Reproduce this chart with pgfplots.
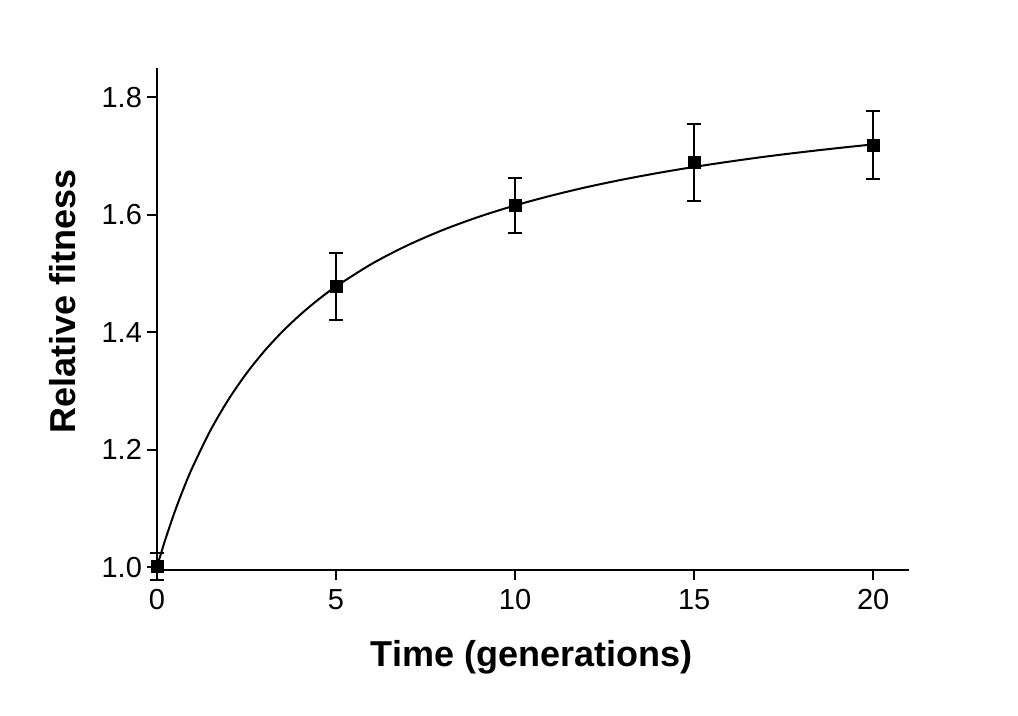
\documentclass[border=0pt]{standalone}
\usepackage{pgfplots}
\pgfplotsset{compat=1.18}
\usepackage{fontspec}
\setmainfont{Liberation Sans}
\begin{document}
\begin{tikzpicture}
\path[use as bounding box] (-78.5pt,-73pt) rectangle (430.5pt,285pt);
\begin{axis}[
  at={(0,0)}, anchor=south west,
  scale only axis, width=376pt, height=251pt,
  xmin=0, xmax=21, ymin=0.995, ymax=1.85,
  axis lines=left, axis line style={-, line width=1pt},
  xtick={0,5,10,15,20}, ytick={1.0,1.2,1.4,1.6,1.8},
  yticklabel style={xshift=1pt, /pgf/number format/.cd, fixed, fixed zerofill, precision=1},
  xticklabel style={yshift=-1pt},
  /pgf/number format/assume math mode=true,
  tick align=outside, major tick length=5pt,
  tick style={line width=1pt, black},
  tick label style={font=\fontsize{14.5}{16}\selectfont},
  xlabel={Time (generations)}, ylabel={Relative fitness},
  label style={font=\fontsize{18}{21}\selectfont\bfseries},
  xlabel style={at={(axis description cs:0.498,0)}, anchor=base, yshift=-48.5pt},
  ylabel style={at={(axis description cs:-0.109,0.534)}, anchor=base, rotate=0},
  clip=false,
]
\addplot[black, line width=1pt, smooth, no marks] coordinates {
(0,1.0000) (0.1,1.0208) (0.25,1.0502) (0.5,1.0950) (0.75,1.1350) (1,1.1711)
(1.5,1.2336) (2,1.2858) (2.5,1.3300) (3,1.3680) (3.5,1.4009) (4,1.4298)
(4.5,1.4553) (5,1.4779) (6,1.5165) (7,1.5481) (8,1.5745) (9,1.5968)
(10,1.6159) (11,1.6325) (12,1.6471) (13,1.6599) (14,1.6713) (15,1.6815)
(16,1.6907) (17,1.6991) (18,1.7066) (19,1.7135) (20,1.7199)
};
\addplot[black, only marks, mark=square*, mark size=3pt,
  error bars/.cd, y dir=both, y explicit,
  error bar style={line width=1pt, black},
  error mark options={rotate=90, mark size=3.5pt, line width=1pt, black}]
  coordinates {
  (0,1.0005) +- (0,0.023)
  (5,1.478) +- (0,0.057)
  (10,1.616) +- (0,0.047)
  (15,1.689) +- (0,0.066)
  (20,1.719) +- (0,0.058)
};
\end{axis}
\end{tikzpicture}
\end{document}
